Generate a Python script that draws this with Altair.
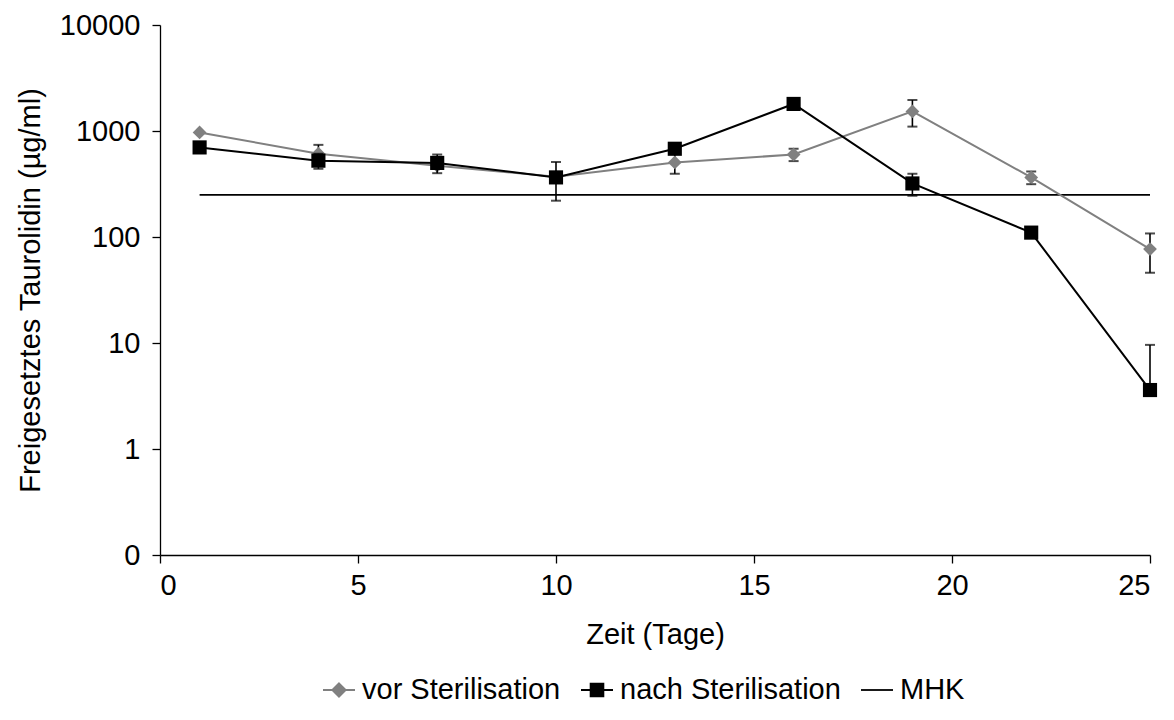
import altair as alt
import pandas as pd

days = [1, 4, 7, 10, 13, 16, 19, 22, 25]
vor = [970, 610, 470, 370, 505, 600, 1530, 365, 77]
vor_sd = [0, 130, 0, 0, 110, 80, 430, 50, 31]
nach = [700, 525, 500, 365, 680, 1800, 320, 110, 3.6]
nach_sd = [80, 85, 100, 145, 0, 0, 75, 12, 6]
mhk_days = [1, 25]
mhk = [250, 250]

series_names = ["vor Sterilisation", "nach Sterilisation", "MHK"]
series_colors = ["#808080", "#000000", "#000000"]
legend_paths = [
    "M-1,0H1M0,-0.42L0.42,0L0,0.42L-0.42,0Z",
    "M-1,0H1M-0.4,-0.4H0.4V0.4H-0.4Z",
    "M-1,0H1",
]
y_ticks = [0.1, 1, 10, 100, 1000, 10000]
x_ticks = [0, 5, 10, 15, 20, 25]

FONT = "Liberation Sans"
FS = 29


def make_df(vals, sds, name):
    rows = []
    for d, v, s in zip(days, vals, sds):
        lo = v - s
        rows.append({
            "day": d, "value": v, "series": name,
            "hi": v + s,
            "lo": lo if lo > 0 else v,
            "has_lo": lo > 0,
            "has_err": s > 0,
        })
    return pd.DataFrame(rows)


df_vor = make_df(vor, vor_sd, series_names[0])
df_nach = make_df(nach, nach_sd, series_names[1])
df_mhk = pd.DataFrame({"day": mhk_days, "value": mhk})

xscale = alt.Scale(domain=[0, 25], nice=False)
yscale = alt.Scale(type="log", domain=[0.1, 10000], nice=False)

x_axis = alt.Axis(values=x_ticks, title="Zeit (Tage)", labelPadding=8, titlePadding=20)
y_axis = alt.Axis(values=y_ticks, title="Freigesetztes Taurolidin (µg/ml)",
                  labelExpr="datum.value < 0.5 ? '0' : format(datum.value, 'd')",
                  labelPadding=12, titlePadding=14)

X = alt.X("day:Q", scale=xscale, axis=x_axis)
Y = alt.Y("value:Q", scale=yscale, axis=y_axis)


def series_layers(df, color, shape, size):
    base = alt.Chart(df)
    line = base.mark_line(color=color, strokeWidth=2).encode(x=X, y=Y)
    err = base.transform_filter("datum.has_err").mark_rule(color="black", strokeWidth=1.6).encode(
        x="day:Q", y=alt.Y("lo:Q", scale=yscale), y2="hi:Q")
    cap_hi = base.transform_filter("datum.has_err").mark_tick(
        color="black", orient="horizontal", size=10, thickness=2).encode(
        x="day:Q", y=alt.Y("hi:Q", scale=yscale))
    cap_lo = base.transform_filter("datum.has_err && datum.has_lo").mark_tick(
        color="black", orient="horizontal", size=10, thickness=2).encode(
        x="day:Q", y=alt.Y("lo:Q", scale=yscale))
    pts = base.mark_point(filled=True, opacity=1, color=color, shape=shape, size=size).encode(x=X, y=Y)
    return [line, err, cap_hi, cap_lo, pts]


mhk_line = alt.Chart(df_mhk).mark_line(color="black", strokeWidth=1.8).encode(x=X, y=Y)

# legend-only layer (marks fall outside the x domain and are clipped)
legend_df = pd.DataFrame({"series": series_names, "day": [-10, -10, -10], "value": [1, 1, 1]})
legend_layer = alt.Chart(legend_df).mark_point(filled=True, opacity=1, clip=True, strokeWidth=1.8).encode(
    x=X, y=Y,
    fill=alt.Fill("series:N", scale=alt.Scale(domain=series_names, range=series_colors), legend=None),
    stroke=alt.Stroke("series:N", scale=alt.Scale(domain=series_names, range=series_colors), legend=None),
    shape=alt.Shape("series:N", scale=alt.Scale(domain=series_names, range=legend_paths),
                    legend=alt.Legend(title=None, orient="none", direction="horizontal",
                                      legendX=162, legendY=648,
                                      symbolSize=1024, symbolStrokeWidth=1.8,
                                      labelFontSize=FS, labelFont=FONT, labelColor="black",
                                      labelLimit=500,
                                      columnPadding=16, labelOffset=6)),
)

layers = [mhk_line] + series_layers(df_vor, "#808080", "diamond", 190) + \
    series_layers(df_nach, "#000000", "square", 200) + [legend_layer]

chart = alt.layer(*layers).properties(
    width=990, height=530,
    autosize=alt.AutoSizeParams(type="none"),
    padding={"left": 152, "top": 17, "right": 16, "bottom": 158},
).configure_view(stroke=None).configure_axis(
    grid=False, domainColor="black", tickColor="black", tickSize=8, domainWidth=1.3, tickWidth=1.3,
    labelFont=FONT, titleFont=FONT, labelFontSize=FS, titleFontSize=FS,
    labelColor="black", titleColor="black", titleFontWeight="normal",
)

chart.save("out.html", embed_options={"renderer": "svg", "actions": False})
